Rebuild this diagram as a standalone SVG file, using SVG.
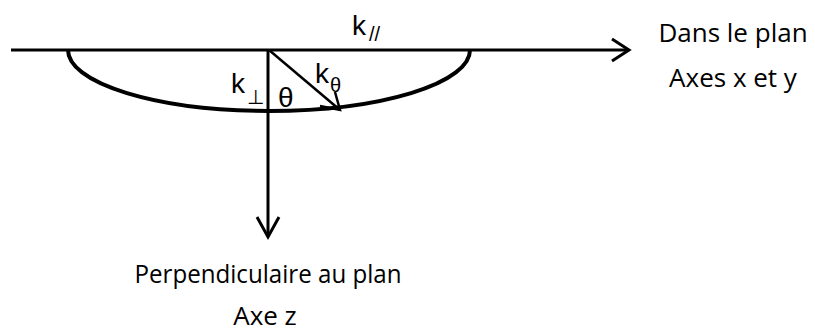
<svg xmlns="http://www.w3.org/2000/svg" width="815" height="334" viewBox="0 0 815 334">
<style>
.ln{fill:none;stroke:#000;stroke-linecap:butt}
.k{font-family:"Liberation Sans",Arial,sans-serif;font-size:28px;fill:#000}
.ks{font-family:"Liberation Sans",Arial,sans-serif;font-size:20px;fill:#000}
.lb{font-family:"Open Sans","Noto Sans",sans-serif;font-size:26px;fill:#000;text-anchor:middle}
</style>
<rect width="815" height="334" fill="#fff"/>
<g id="connectors">
<path class="ln" stroke-width="3" d="M11,50 H629"/>
<path class="ln" stroke-width="3" d="M612,39 L629,50 L612,61"/>
<path class="ln" stroke-width="3" d="M268,50 V237"/>
<path class="ln" stroke-width="3" d="M257,217 L268,237 L279,217"/>
<path class="ln" stroke-width="2.5" d="M269,50 L340,110"/>
<path class="ln" stroke-width="2.5" d="M335,92 L340,110 L320,106"/>
</g>
<g id="bowl">
<path class="ln" stroke-width="4" d="M68,50 A201,61 0 0 0 470,50"/>
</g>
<g id="labels">
<text class="k" x="352" y="35">k</text><text class="ks" x="369" y="41" font-size="22">//</text>
<text class="k" x="231" y="93">k</text><text class="ks" x="247" y="104">⊥</text>
<text class="k" x="278" y="107">θ</text>
<text class="k" x="315" y="83">k</text><text class="ks" x="330" y="92">θ</text>
</g>
<g id="n-plan">
<text class="lb" x="733" y="42">Dans le plan</text>
<text class="lb" x="733" y="87">Axes x et y</text>
</g>
<g id="n-perp">
<text class="lb" x="268" y="283" textLength="267" lengthAdjust="spacingAndGlyphs">Perpendiculaire au plan</text>
<text class="lb" x="265" y="325">Axe z</text>
</g>
</svg>
